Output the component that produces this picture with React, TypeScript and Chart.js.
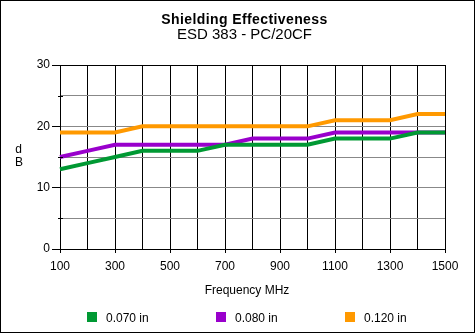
import React, { useEffect, useRef } from 'react';
import { Chart, registerables } from 'chart.js';

Chart.register(...registerables);

const titleText = 'Shielding Effectiveness';
const subtitleText = 'ESD 383 - PC/20CF';
const xAxisTitle = 'Frequency MHz';
const yAxisTitle = ['d', 'B'];

const frequencies = [100, 200, 300, 400, 500, 600, 700, 800, 900, 1000, 1100, 1200, 1300, 1400, 1500];
const xTickLabels = ['100', '300', '500', '700', '900', '1100', '1300', '1500'];
const yTickLabels = [0, 10, 20, 30];

const seriesNames = ['0.070 in', '0.080 in', '0.120 in'];
const values070 = [13, 14, 15, 16, 16, 16, 17, 17, 17, 17, 18, 18, 18, 19, 19];
const values080 = [15, 16, 17, 17, 17, 17, 17, 18, 18, 18, 19, 19, 19, 19, 19];
const values120 = [19, 19, 19, 20, 20, 20, 20, 20, 20, 20, 21, 21, 21, 22, 22];
const seriesColors = ['#009933', '#9900CC', '#FF9900'];

const FONT = '"Liberation Sans", Arial, sans-serif';

const decorPlugin = {
  id: 'decor',
  beforeDraw(chart: any) {
    const ctx = chart.ctx;
    ctx.save();
    ctx.fillStyle = '#ffffff';
    ctx.fillRect(0, 0, chart.width, chart.height);
    ctx.restore();
  },
  afterDraw(chart: any) {
    const ctx = chart.ctx;
    const area = chart.chartArea;
    const yScale = chart.scales.y;
    ctx.save();
    // frame
    ctx.strokeStyle = '#000';
    ctx.lineWidth = 1;
    ctx.strokeRect(0.5, 0.5, chart.width - 1, chart.height - 1);

    // minor y ticks
    [5, 15, 25].forEach((v) => {
      const py = Math.round(yScale.getPixelForValue(v)) + 0.5;
      ctx.beginPath();
      ctx.moveTo(area.left - 2, py);
      ctx.lineTo(area.left + 3, py);
      ctx.stroke();
    });

    ctx.fillStyle = '#000';
    ctx.textAlign = 'center';
    ctx.textBaseline = 'alphabetic';
    const cx = 244.5;
    ctx.font = `bold 14px ${FONT}`;
    try { (ctx as any).letterSpacing = '0.4px'; } catch (e) {}
    ctx.fillText(titleText, cx, 23.5);
    try { (ctx as any).letterSpacing = '0px'; } catch (e) {}
    ctx.font = `15px ${FONT}`;
    ctx.fillText(subtitleText, cx, 38.5);

    ctx.font = `12px ${FONT}`;
    ctx.fillText(xAxisTitle, 247, 294);
    ctx.fillText(yAxisTitle[0], 18.5, 153);
    ctx.fillText(yAxisTitle[1], 19, 166);

    // legend
    ctx.textAlign = 'left';
    seriesNames.forEach((name, i) => {
      const x0 = 87 + i * 129;
      ctx.fillStyle = seriesColors[i];
      ctx.fillRect(x0, 312, 10, 10);
      ctx.fillStyle = '#000';
      ctx.fillText(name, x0 + 19, 322);
    });
    ctx.restore();
  },
};

export default function App() {
  const canvasRef = useRef<HTMLCanvasElement | null>(null);

  useEffect(() => {
    if (!canvasRef.current) return;
    const seriesValues = [values070, values080, values120];
    const chart = new Chart(canvasRef.current, {
      type: 'line',
      data: {
        labels: frequencies.map(String),
        datasets: seriesNames.map((name, i) => ({
          label: name,
          data: seriesValues[i],
          borderColor: seriesColors[i],
          backgroundColor: seriesColors[i],
          borderWidth: 4,
          pointRadius: 0,
          tension: 0,
          fill: false,
        })),
      },
      options: {
        responsive: false,
        animation: false,
        devicePixelRatio: 1,
        layout: { padding: { left: 0, top: 65, right: 30, bottom: 0 } },
        plugins: {
          legend: { display: false },
          title: { display: false },
          tooltip: { enabled: false },
        },
        scales: {
          x: {
            type: 'category',
            offset: false,
            grid: {
              color: '#000',
              tickLength: 4,
              tickColor: (c: any) => (c.index % 2 === 0 ? '#000' : 'rgba(0,0,0,0)'),
            },
            border: { color: '#000', width: 1 },
            ticks: {
              autoSkip: false,
              maxRotation: 0,
              minRotation: 0,
              padding: 6,
              color: '#000',
              font: { family: FONT, size: 12 },
              callback: (_v: any, i: number) => (i % 2 === 0 ? xTickLabels[i / 2] : ''),
            },
            afterFit: (s: any) => { s.height = 84; },
          },
          y: {
            type: 'linear',
            min: 0,
            max: 30,
            grid: {
              color: (c: any) => (c.tick && c.tick.value === 30 ? '#000' : '#888'),
              tickLength: 8,
              tickColor: (c: any) => (c.tick && c.tick.value % 10 === 0 ? '#000' : 'rgba(0,0,0,0)'),
            },
            border: { color: '#000', width: 1 },
            ticks: {
              stepSize: 5,
              padding: 2,
              color: '#000',
              font: { family: FONT, size: 12 },
              callback: (v: any) => (yTickLabels.includes(v) ? String(v) : ''),
            },
            afterFit: (s: any) => { s.width = 60; },
          },
        },
      },
      plugins: [decorPlugin],
    });
    return () => chart.destroy();
  }, []);

  return (
    <div style={{ position: 'fixed', left: 0, top: 0, width: 475, height: 333, background: '#fff' }}>
      <canvas ref={canvasRef} width={475} height={333} style={{ display: 'block', width: 475, height: 333 }} />
    </div>
  );
}
